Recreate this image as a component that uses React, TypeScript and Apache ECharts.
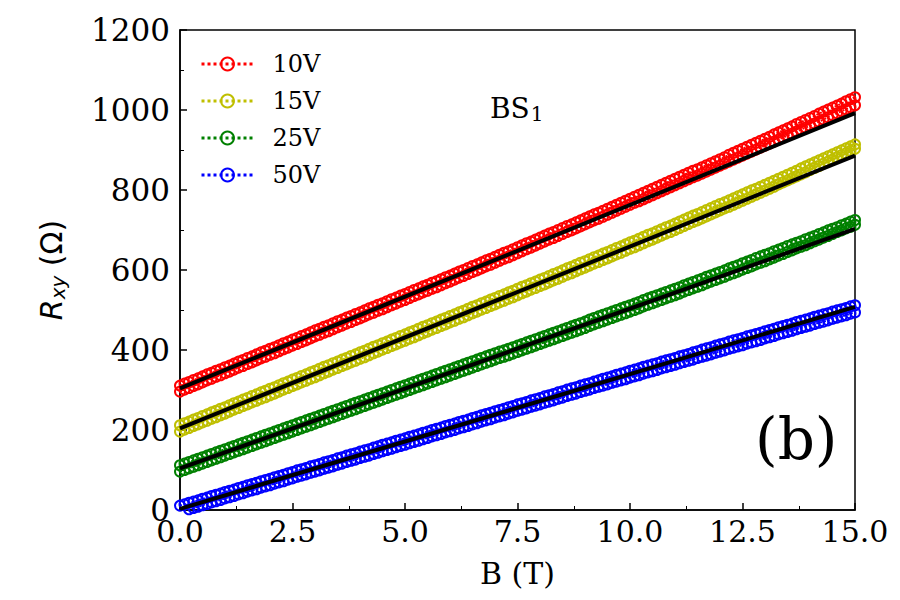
import React, { useEffect, useRef } from "react";
import * as echarts from "echarts";

const B = [0,0.1,0.2,0.3,0.4,0.5,0.6,0.7,0.8,0.9,1,1.1,1.2,1.3,1.4,1.5,1.6,1.7,1.8,1.9,2,2.1,2.2,2.3,2.4,2.5,2.6,2.7,2.8,2.9,3,3.1,3.2,3.3,3.4,3.5,3.6,3.7,3.8,3.9,4,4.1,4.2,4.3,4.4,4.5,4.6,4.7,4.8,4.9,5,5.1,5.2,5.3,5.4,5.5,5.6,5.7,5.8,5.9,6,6.1,6.2,6.3,6.4,6.5,6.6,6.7,6.8,6.9,7,7.1,7.2,7.3,7.4,7.5,7.6,7.7,7.8,7.9,8,8.1,8.2,8.3,8.4,8.5,8.6,8.7,8.8,8.9,9,9.1,9.2,9.3,9.4,9.5,9.6,9.7,9.8,9.9,10,10.1,10.2,10.3,10.4,10.5,10.6,10.7,10.8,10.9,11,11.1,11.2,11.3,11.4,11.5,11.6,11.7,11.8,11.9,12,12.1,12.2,12.3,12.4,12.5,12.6,12.7,12.8,12.9,13,13.1,13.2,13.3,13.4,13.5,13.6,13.7,13.8,13.9,14,14.1,14.2,14.3,14.4,14.5,14.6,14.7,14.8,14.9,15];

const red10Up = [311,316,320,325,329,334,339,343,348,352,357,361,366,371,375,380,384,389,394,398,403,407,412,417,421,426,430,435,439,444,449,453,458,462,467,472,476,481,485,490,494,499,504,508,513,517,522,527,531,536,540,545,550,554,559,563,568,572,577,582,586,591,596,600,605,610,614,619,624,628,633,638,643,647,652,657,662,667,671,676,681,686,691,695,700,705,710,714,719,724,729,734,739,743,748,753,758,763,768,773,778,783,788,793,798,803,808,813,818,823,828,833,838,843,848,852,857,862,867,872,877,882,888,893,898,903,908,913,918,923,928,933,939,944,949,954,959,965,970,975,980,985,991,996,1001,1006,1011,1016,1022,1027,1032];
const red10Dn = [296,301,305,310,314,319,324,328,333,337,342,346,351,356,360,365,369,374,379,383,388,392,397,402,406,411,415,420,424,429,434,438,443,447,452,457,461,466,470,475,479,484,489,493,498,502,507,512,516,521,525,530,535,539,544,548,553,557,562,567,571,576,581,585,590,595,599,604,609,613,618,623,628,632,637,642,647,652,656,661,666,671,676,680,685,690,695,699,704,709,714,719,724,728,733,738,743,748,753,758,763,768,772,777,782,787,792,797,802,807,812,817,822,827,832,836,841,846,851,856,861,866,871,876,881,886,891,896,901,906,911,916,921,926,931,936,941,946,951,956,961,966,971,976,982,987,992,997,1002,1007,1012];

const yel15Up = [212,217,221,226,230,235,239,244,248,253,257,262,267,271,276,280,285,289,294,298,303,307,312,317,321,326,330,335,339,344,348,353,358,362,367,371,376,380,385,389,394,398,403,408,412,417,421,426,430,435,439,444,448,453,458,462,467,471,476,480,485,489,494,498,503,508,512,517,521,526,530,535,539,544,548,553,558,562,567,571,576,580,585,590,594,599,604,608,613,618,622,627,632,636,641,645,650,655,659,664,669,673,678,683,688,692,697,702,707,711,716,721,726,731,736,740,745,750,755,760,765,769,774,779,784,789,794,799,803,808,813,818,823,828,833,838,843,848,854,859,864,869,874,879,884,889,894,899,904,909,914];
const yel15Dn = [196,201,205,210,214,219,223,228,232,237,241,246,251,255,260,264,269,273,278,282,287,291,296,301,305,310,314,319,323,328,332,337,342,346,351,355,360,364,369,373,378,382,387,392,396,401,405,410,414,419,423,428,432,437,442,446,451,455,460,464,469,473,478,482,487,492,496,501,505,510,514,519,523,528,532,537,542,546,551,555,560,564,569,574,578,583,588,592,597,602,606,611,616,620,625,629,634,639,643,648,653,657,662,667,672,676,681,686,691,695,700,705,710,715,720,724,729,734,739,744,749,754,758,763,768,773,778,783,788,793,798,803,808,814,819,824,829,834,839,844,850,855,860,866,871,876,882,887,892,898,903];

const grn25Up = [112,116,120,124,128,132,136,140,144,148,152,156,160,164,168,172,176,180,184,188,192,196,200,204,208,212,216,220,224,228,232,236,240,244,248,252,256,260,264,268,272,276,280,284,288,292,296,300,304,308,312,316,320,324,328,332,336,340,344,348,352,356,360,364,368,372,376,380,384,388,392,396,399,403,407,411,415,419,423,427,431,435,439,443,447,451,455,459,463,467,471,476,480,484,488,492,496,500,504,508,512,516,520,525,529,533,537,541,545,549,553,557,562,566,570,574,578,583,587,591,595,599,604,608,612,617,621,625,630,634,638,642,647,651,655,660,664,668,672,677,681,685,690,694,699,703,707,712,716,721,725];
const grn25Dn = [96,100,104,108,112,116,120,124,128,132,136,140,144,148,152,156,160,164,168,172,176,180,184,188,192,196,200,204,208,212,216,220,224,228,232,236,240,244,248,252,256,260,264,268,272,276,280,284,288,292,296,300,304,308,312,316,320,324,328,332,336,340,344,348,352,356,360,364,368,372,376,380,383,387,391,395,399,403,407,411,415,419,423,427,431,435,439,443,447,451,455,460,464,468,472,476,480,484,488,492,496,500,504,509,513,517,521,525,529,533,537,541,546,550,554,558,562,567,571,575,579,583,588,592,596,601,605,609,614,618,622,627,631,636,640,645,649,654,658,662,667,672,676,681,685,690,695,699,704,708,713];

const blu50Up = [11,14,18,21,24,28,31,35,38,41,45,48,51,55,58,62,65,68,72,75,78,82,85,88,92,95,99,102,105,109,112,115,119,122,125,129,132,136,139,142,146,149,152,156,159,163,166,169,173,176,179,183,186,189,193,196,200,203,206,210,213,216,220,223,226,230,233,237,240,243,247,250,253,257,260,264,267,270,274,277,280,284,287,290,294,297,301,304,307,311,314,317,321,324,328,331,334,338,341,344,348,351,354,358,361,364,367,371,374,377,380,384,387,390,394,397,401,404,407,411,414,417,421,424,427,430,434,437,440,443,447,450,453,457,460,463,466,470,473,476,479,483,486,489,492,496,499,502,505,509,512];
const blu50Dn = [-5,-2,2,5,8,12,15,19,22,25,29,32,35,39,42,46,49,52,56,59,62,66,69,72,76,79,83,86,89,93,96,99,103,106,109,113,116,120,123,126,130,133,136,140,143,147,150,153,157,160,163,167,170,173,177,180,184,187,190,194,197,200,204,207,210,214,217,221,224,227,231,234,237,241,244,248,251,254,258,261,264,268,271,274,278,281,285,288,291,295,298,301,305,308,311,314,318,321,324,327,331,334,337,341,344,347,350,354,357,360,363,367,370,373,376,380,383,386,389,393,396,399,403,406,409,412,416,419,422,425,429,432,435,439,442,445,448,452,455,458,461,465,468,471,474,478,481,484,487,491,494];

const fitB = [0, 15];
const red10Fit = [304, 992];
const yel15Fit = [204, 886];
const grn25Fit = [104, 703];
const blu50Fit = [3, 508];

const seriesNames = ["10V", "15V", "25V", "50V"];
const seriesColors = ["#ff0000", "#bfbf00", "#008000", "#0000ff"];
const xTicks = [0, 2.5, 5, 7.5, 10, 12.5, 15];
const yTicks = [0, 200, 400, 600, 800, 1000, 1200];

export default function App() {
  const ref = useRef<HTMLDivElement>(null);
  useEffect(() => {
    if (!ref.current) return;
    const chart = echarts.init(ref.current, null, { renderer: "svg" });
    const serif = "DejaVu Serif";
    const sans = "DejaVu Sans";
    const sweeps = [
      [red10Up, red10Dn],
      [yel15Up, yel15Dn],
      [grn25Up, grn25Dn],
      [blu50Up, blu50Dn],
    ];
    const fits = [red10Fit, yel15Fit, grn25Fit, blu50Fit];
    const series: any[] = [];
    sweeps.forEach((pair, i) => {
      pair.forEach((vals) => {
        series.push({
          type: "line",
          name: seriesNames[i],
          data: B.map((b, k) => [b, vals[k]]),
          symbol: "circle",
          symbolSize: 10,
          showAllSymbol: true,
          itemStyle: { color: "rgba(0,0,0,0)", borderColor: seriesColors[i], borderWidth: 2 },
          lineStyle: { color: seriesColors[i], width: 2, type: "dotted" },
          emphasis: { disabled: true },
          z: 2,
        });
      });
    });
    fits.forEach((f) => {
      series.push({
        type: "line",
        data: fitB.map((b, k) => [b, f[k]]),
        symbol: "none",
        lineStyle: { color: "#000", width: 4 },
        emphasis: { disabled: true },
        z: 3,
        silent: true,
      });
    });

    chart.setOption({
      animation: false,
      backgroundColor: "#fff",
      grid: { left: 180, right: 45, top: 30, bottom: 90, show: true, borderColor: "#000", borderWidth: 1.5, backgroundColor: "transparent" },
      xAxis: {
        type: "value",
        min: xTicks[0],
        max: xTicks[xTicks.length - 1],
        interval: 2.5,
        axisLine: { show: true, lineStyle: { color: "#000", width: 1.5 } },
        axisTick: { show: true, inside: true, length: 7, lineStyle: { color: "#000", width: 1.5 } },
        minorTick: { show: true, splitNumber: 2, length: 4, lineStyle: { color: "#000", width: 1 } },
        splitLine: { show: false },
        axisLabel: { fontFamily: serif, fontSize: 30, color: "#000", margin: 6, formatter: (v: number) => v.toFixed(1) },
        name: "B (T)",
        nameLocation: "middle",
        nameGap: 48,
        nameTextStyle: { fontFamily: serif, fontSize: 30, color: "#000" },
      },
      yAxis: {
        type: "value",
        min: yTicks[0],
        max: yTicks[yTicks.length - 1],
        interval: 200,
        axisLine: { show: true, lineStyle: { color: "#000", width: 1.5 } },
        axisTick: { show: true, inside: true, length: 7, lineStyle: { color: "#000", width: 1.5 } },
        minorTick: { show: true, splitNumber: 2, length: 4, lineStyle: { color: "#000", width: 1 } },
        splitLine: { show: false },
        axisLabel: { fontFamily: serif, fontSize: 31, color: "#000", margin: 10, formatter: (v: number) => String(v) },
        name: "{i|R}{s|xy}{n| (Ω)}",
        nameLocation: "middle",
        nameRotate: 90,
        nameGap: 112,
        nameTextStyle: {
          color: "#000",
          rich: {
            i: { fontFamily: sans, fontStyle: "italic", fontSize: 30, color: "#000" },
            s: { fontFamily: sans, fontStyle: "italic", fontSize: 20, color: "#000", padding: [14, 0, 0, 0] },
            n: { fontFamily: sans, fontSize: 30, color: "#000" },
          },
        },
      },
      legend: {
        data: seriesNames,
        orient: "vertical",
        left: 195,
        top: 47,
        itemWidth: 52,
        itemHeight: 16,
        itemGap: 13,
        selectedMode: false,
        lineStyle: { width: 3 },
        textStyle: { fontFamily: serif, fontSize: 24, color: "#000", padding: [0, 0, 0, 14] },
      },
      graphic: [
        {
          type: "text",
          left: 490,
          top: 94,
          style: {
            text: "{a|BS}{b|1}",
            rich: {
              a: { fontFamily: serif, fontSize: 28, fill: "#000" },
              b: { fontFamily: serif, fontSize: 20, fill: "#000", padding: [12, 0, 0, 1] },
            },
          },
        },
        {
          type: "text",
          left: 755,
          top: 410,
          style: { text: "(b)", fontFamily: serif, fontSize: 58, fill: "#000" },
        },
      ],
      series,
    });
    return () => chart.dispose();
  }, []);
  return <div ref={ref} style={{ width: 900, height: 600, position: "absolute", left: 0, top: 0 }} />;
}
